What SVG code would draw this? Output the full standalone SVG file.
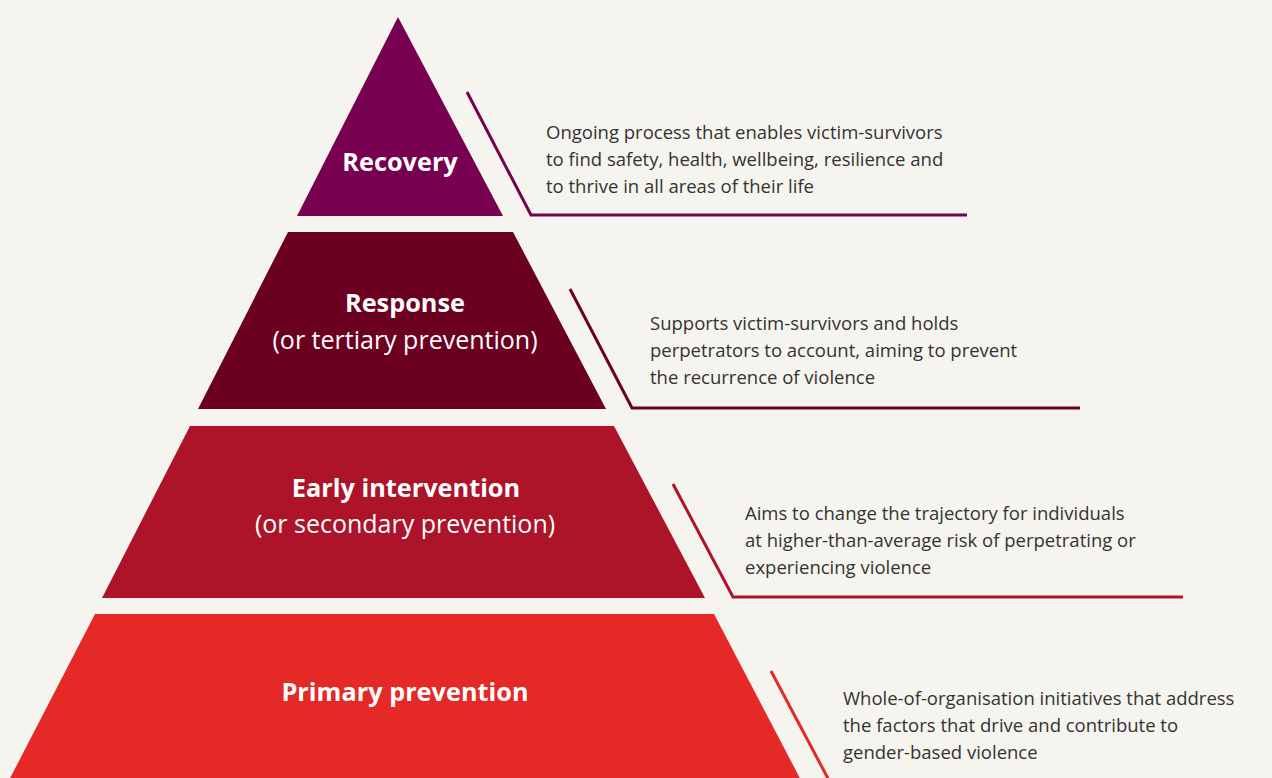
<svg xmlns="http://www.w3.org/2000/svg" width="1272" height="778" viewBox="0 0 1272 778">
  <style>
    .title { font-family: "Open Sans", "Liberation Sans", sans-serif; font-weight: 700; font-size: 25.3px; fill: #ffffff; text-anchor: middle; }
    .sub { font-family: "Open Sans", "Liberation Sans", sans-serif; font-weight: 400; font-size: 25px; fill: #ffffff; text-anchor: middle; }
    .desc { font-family: "Open Sans", "Liberation Sans", sans-serif; font-weight: 400; font-size: 18.5px; fill: #333333; }
    .link { fill: none; stroke-width: 3; stroke-linejoin: miter; }
  </style>
  <rect width="1272" height="778" fill="#f6f4ef"/>

  <!-- pyramid tiers -->
  <g id="recovery">
    <polygon points="398,17 503,216 297,216" fill="#770050"/>
    <text class="title" x="400" y="171">Recovery</text>
  </g>
  <g id="response">
    <polygon points="288,232 513,232 606,409 198,409" fill="#6b0020"/>
    <text class="title" x="405" y="312">Response</text>
    <text class="sub" x="405" y="349">(or tertiary prevention)</text>
  </g>
  <g id="early-intervention">
    <polygon points="190,426 614,426 705,598 102,598" fill="#ad1329"/>
    <text class="title" x="406" y="497">Early intervention</text>
    <text class="sub" x="405" y="533">(or secondary prevention)</text>
  </g>
  <g id="primary-prevention">
    <polygon points="95,614 714,614 804,786 6,786" fill="#e42926"/>
    <text class="title" x="405" y="701">Primary prevention</text>
  </g>

  <!-- leader lines to the descriptions -->
  <g id="connectors">
    <polyline class="link" stroke="#770050" points="467,92 531,215 967,215"/>
    <polyline class="link" stroke="#6b0020" points="570,289 632,408 1080,408"/>
    <polyline class="link" stroke="#ad1329" points="673,484 733,597 1183,597"/>
    <polyline class="link" stroke="#e42926" points="771,671 832,786"/>
  </g>

  <!-- descriptions -->
  <g id="recovery-desc">
    <text class="desc" x="546" y="139">Ongoing process that enables victim-survivors</text>
    <text class="desc" x="546" y="166">to find safety, health, wellbeing, resilience and</text>
    <text class="desc" x="546" y="193">to thrive in all areas of their life</text>
  </g>
  <g id="response-desc">
    <text class="desc" x="650" y="330">Supports victim-survivors and holds</text>
    <text class="desc" x="650" y="357">perpetrators to account, aiming to prevent</text>
    <text class="desc" x="650" y="384">the recurrence of violence</text>
  </g>
  <g id="early-intervention-desc">
    <text class="desc" x="745" y="520">Aims to change the trajectory for individuals</text>
    <text class="desc" x="745" y="547">at higher-than-average risk of perpetrating or</text>
    <text class="desc" x="745" y="574">experiencing violence</text>
  </g>
  <g id="primary-prevention-desc">
    <text class="desc" x="843" y="705">Whole-of-organisation initiatives that address</text>
    <text class="desc" x="843" y="732">the factors that drive and contribute to</text>
    <text class="desc" x="843" y="759">gender-based violence</text>
  </g>
</svg>
